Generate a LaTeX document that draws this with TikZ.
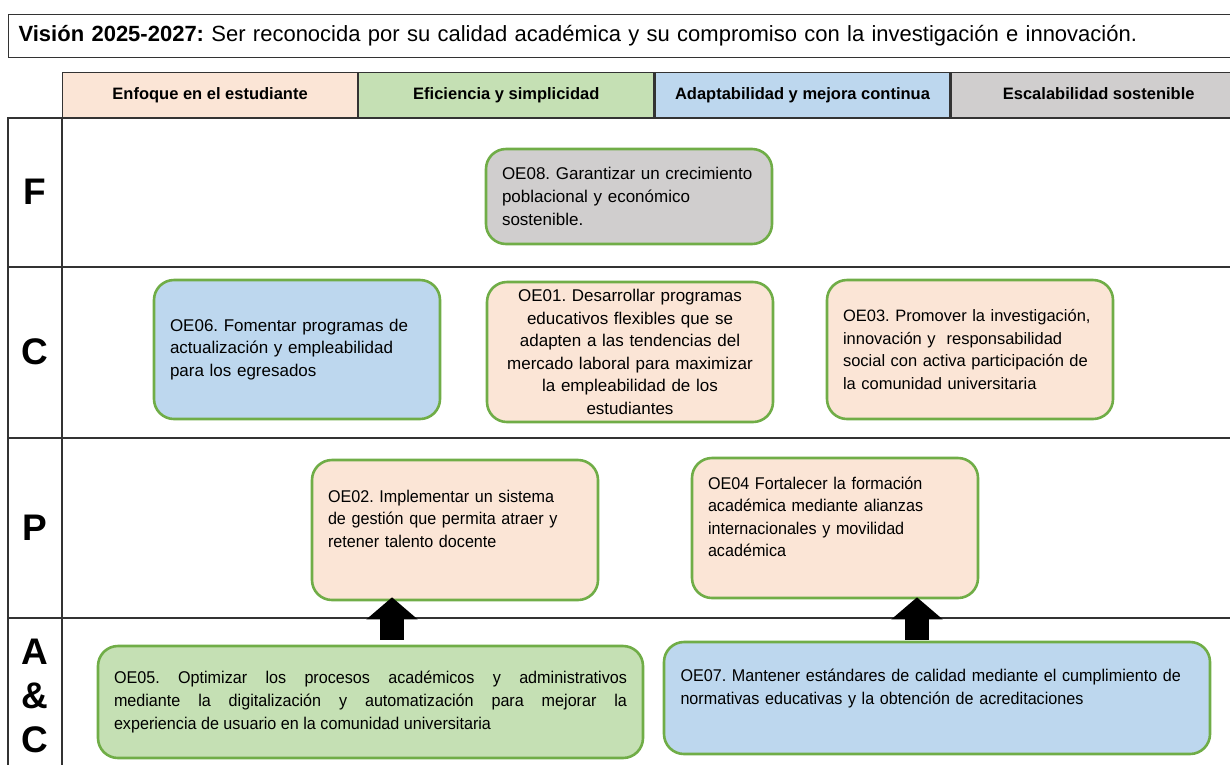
\documentclass[tikz,border=0pt]{standalone}
\usepackage{fontspec}
\setmainfont{Liberation Sans}
\newfontfamily\narrowsf[FakeStretch=0.95]{Liberation Sans}
\usetikzlibrary{arrows.meta,positioning}
\definecolor{peach}{HTML}{FBE5D6}
\definecolor{leaf}{HTML}{C5E0B4}
\definecolor{sky}{HTML}{BDD7EE}
\definecolor{stone}{HTML}{D0CECE}
\definecolor{rim}{HTML}{70AD47}
\definecolor{gridc}{HTML}{333333}
\frenchspacing
\hyphenpenalty=10000
\begin{document}
\begin{tikzpicture}[
x=1pt, y=-1pt,
gridline/.style={draw=gridc, line width=1.6pt},
headcell/.style={draw=gridc, line width=1.2pt, minimum width=295pt, minimum height=46pt, inner sep=0pt, text height=12pt, text depth=3.5pt, font=\fontsize{16.5}{18}\selectfont\bfseries},
rowtag/.style={align=center, font=\fontsize{37}{44}\selectfont\bfseries},
goal/.style={draw=rim, line width=2.6pt, rounded corners=20pt, minimum width=286pt, minimum height=140pt, inner xsep=15pt, text width=254pt, align=left, font=\fontsize{17}{22.6}\selectfont},
narrowgoal/.style={goal, font=\narrowsf\fontsize{17}{22.6}\selectfont},
widegoal/.style={narrowgoal, minimum width=545pt, minimum height=112pt, text width=513pt},
bigarrow/.style={line width=24pt, -{Triangle[length=22pt,width=50pt]}}
]
\useasboundingbox (0,0) rectangle (1230,764);
\fill[white] (0,0) rectangle (1230,764);

\node (vision) [draw=gridc, line width=1.2pt, anchor=north west, minimum width=1240pt, minimum height=43pt, inner xsep=10pt, text width=1220pt, align=left, font=\fontsize{22}{24}\selectfont] at (8,14)
{\textbf{Visión 2025-2027:} Ser reconocida por su calidad académica y su compromiso con la investigación e innovación.};

\node (h1) [headcell, fill=peach, anchor=north west] at (62,72) {Enfoque en el estudiante};
\node (h2) [headcell, fill=leaf, right=0pt of h1] {Eficiencia y simplicidad};
\node (h3) [headcell, fill=sky, right=0pt of h2] {Adaptabilidad y mejora continua};
\node (h4) [headcell, fill=stone, right=0pt of h3] {Escalabilidad sostenible};

\draw[gridline] (1240,118) -- (8,118) -- (8,770);
\draw[gridline] (62,118) -- (62,770);
\foreach \y in {267,438,618}
  \draw[gridline] (8,\y) -- (1240,\y);

\node (tF) [rowtag] at (35,192) {F};
\node (tC) [rowtag] at (35,352) {C};
\node (tP) [rowtag] at (35,528) {P};
\node (tAC) [rowtag] at (35,696) {A\\\&\\C};

\node (oe08) [goal, fill=stone, minimum height=95pt] at (629,196.5)
{OE08. Garantizar un crecimiento\\poblacional y económico\\sostenible.};
\node (oe06) [goal, fill=sky, minimum height=139pt] at (297,349.5)
{OE06. Fomentar programas de\\actualización y empleabilidad\\para los egresados};
\node (oe01) [goal, fill=peach, align=center] at (630,352)
{OE01. Desarrollar programas\\educativos flexibles que se\\adapten a las tendencias del\\mercado laboral para maximizar\\la empleabilidad de los\\estudiantes};
\node (oe03) [goal, fill=peach, minimum height=139pt, font=\fontsize{16.5}{22.6}\selectfont] at (970,349.5)
{OE03. Promover la investigación,\\innovación y \ responsabilidad\\social con activa participación de\\la comunidad universitaria};
\node (oe02) [narrowgoal, fill=peach] at (455,530)
{OE02. Implementar un sistema\\de gestión que permita atraer y\\retener talento docente\\~};
\node (oe04) [narrowgoal, fill=peach] at (835,528)
{OE04 Fortalecer la formación\\académica mediante alianzas\\internacionales y movilidad\\académica\\~};
\node (oe05) [widegoal, fill=leaf, align=justify] at (370.5,702)
{OE05. Optimizar los procesos académicos y administrativos\linebreak mediante la digitalización y automatización para mejorar la\linebreak experiencia de usuario en la comunidad universitaria};
\node (oe07) [widegoal, fill=sky, minimum width=546pt] at (937,698)
{OE07. Mantener estándares de calidad mediante el cumplimiento de\\normativas educativas y la obtención de acreditaciones\\~};

\coordinate (a1) at (392,0);
\coordinate (a2) at (917,0);
\draw[bigarrow] ([yshift=5pt]oe05.north -| a1) -- ([yshift=4pt]oe02.south -| a1);
\draw[bigarrow] ([yshift=1pt]oe07.north -| a2) -- ([yshift=2pt]oe04.south -| a2);
\end{tikzpicture}
\end{document}
